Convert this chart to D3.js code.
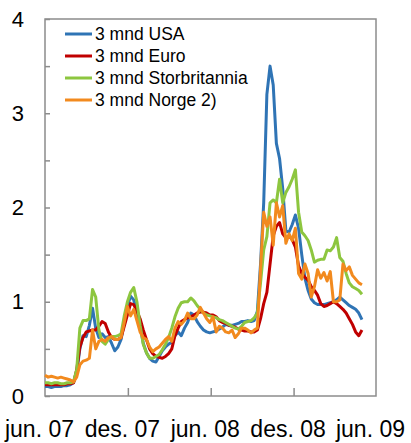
<!DOCTYPE html>
<html>
<head>
<meta charset="utf-8">
<script src="https://cdn.jsdelivr.net/npm/d3@7"></script>
<style>
  body { margin: 0; background: #fff; }
  svg { display: block; font-family: "Liberation Sans", Arial, sans-serif; }
</style>
</head>
<body>
<div id="chart"></div>
<script>
// weekly observations, first week starts 1 June 2007
const startDate = new Date(Date.UTC(2007, 5, 1));

const seriesNames = ["3 mnd USA", "3 mnd Euro", "3 mnd Storbritannia", "3 mnd Norge 2)"];
const seriesColors = ["#2f74b5", "#c00000", "#8dc63f", "#f28a1e"];

const tickDates = ["2007-06-01", "2007-12-01", "2008-06-01", "2008-12-01", "2009-06-01"];
const tickLabels = ["jun. 07", "des. 07", "jun. 08", "des. 08", "jun. 09"];
const yTicks = [0, 0.5, 1, 1.5, 2, 2.5, 3, 3.5, 4];

const usa = [
  0.10, 0.10, 0.09, 0.10, 0.10, 0.10, 0.11, 0.11, 0.12, 0.14,
  0.25, 0.50, 0.64, 0.63, 0.75, 0.93, 0.72, 0.62, 0.66, 0.62,
  0.63, 0.56, 0.48, 0.52, 0.60, 0.78, 0.95, 1.06, 1.02, 0.88,
  0.75, 0.56, 0.46, 0.40, 0.37, 0.36, 0.42, 0.48, 0.52, 0.55,
  0.57, 0.64, 0.68, 0.64, 0.72, 0.78, 0.88, 0.86, 0.79, 0.74,
  0.70, 0.68, 0.67, 0.68, 0.69, 0.71, 0.73, 0.76, 0.75, 0.75,
  0.76, 0.77, 0.79, 0.79, 0.80, 0.79, 0.80, 0.90, 1.40, 2.05,
  3.20, 3.50, 3.30, 2.68, 2.52, 2.20, 1.75, 1.74, 1.82, 1.92,
  1.78, 1.50, 1.25, 1.12, 1.03, 0.99, 0.97, 0.97, 0.97, 0.98,
  0.99, 1.00, 1.02, 1.05, 1.02, 0.99, 0.96, 0.94, 0.92, 0.88,
  0.81
];

const euro = [
  0.12, 0.12, 0.12, 0.12, 0.12, 0.12, 0.12, 0.13, 0.13, 0.14,
  0.28, 0.52, 0.62, 0.68, 0.69, 0.70, 0.70, 0.74, 0.79, 0.77,
  0.68, 0.62, 0.60, 0.60, 0.62, 0.74, 0.86, 0.98, 0.97, 0.90,
  0.82, 0.70, 0.60, 0.50, 0.45, 0.42, 0.41, 0.40, 0.42, 0.45,
  0.50, 0.64, 0.72, 0.79, 0.81, 0.83, 0.84, 0.86, 0.88, 0.89,
  0.89, 0.88, 0.86, 0.86, 0.84, 0.80, 0.78, 0.77, 0.75, 0.74,
  0.73, 0.71, 0.70, 0.69, 0.69, 0.68, 0.68, 0.70, 0.82, 0.98,
  1.10, 1.40, 1.70, 1.80, 1.84, 1.72, 1.68, 1.70, 1.66, 1.58,
  1.38, 1.30, 1.26, 1.23, 1.16, 1.12, 1.07, 0.98, 0.95, 0.96,
  0.98, 1.00, 0.98, 0.95, 0.92, 0.88, 0.82, 0.76, 0.68, 0.64,
  0.70
];

const uk = [
  0.14, 0.14, 0.13, 0.14, 0.14, 0.13, 0.13, 0.14, 0.14, 0.15,
  0.28, 0.72, 0.80, 0.80, 0.82, 1.13, 1.05, 0.70, 0.58, 0.55,
  0.60, 0.63, 0.63, 0.64, 0.66, 0.85, 1.00, 1.10, 1.15, 1.00,
  0.75, 0.55, 0.46, 0.40, 0.40, 0.42, 0.44, 0.49, 0.55, 0.62,
  0.72, 0.84, 0.93, 0.99, 1.00, 1.00, 1.04, 1.01, 0.96, 0.92,
  0.88, 0.86, 0.85, 0.84, 0.83, 0.81, 0.80, 0.78, 0.76, 0.74,
  0.72, 0.71, 0.74, 0.78, 0.79, 0.80, 0.83, 0.88, 1.20, 1.55,
  1.69, 2.05, 2.08, 2.05, 2.30, 2.05, 2.16, 2.22, 2.30, 2.40,
  1.95, 1.74, 1.70, 1.65, 1.55, 1.42, 1.44, 1.45, 1.45, 1.55,
  1.54, 1.58, 1.68, 1.47, 1.43, 1.30, 1.20, 1.16, 1.14, 1.12,
  1.08
];

const norge = [
  0.22, 0.20, 0.21, 0.20, 0.19, 0.20, 0.19, 0.18, 0.17, 0.15,
  0.20, 0.33, 0.37, 0.38, 0.40, 0.70, 0.50, 0.58, 0.60, 0.58,
  0.62, 0.63, 0.60, 0.60, 0.62, 0.78, 0.95, 0.85, 0.92, 0.80,
  0.68, 0.62, 0.60, 0.52, 0.47, 0.50, 0.52, 0.56, 0.60, 0.63,
  0.58, 0.72, 0.79, 0.76, 0.80, 0.88, 0.82, 0.82, 0.86, 0.94,
  0.88, 0.82, 0.78, 0.84, 0.68, 0.74, 0.72, 0.68, 0.67, 0.70,
  0.62, 0.66, 0.72, 0.72, 0.70, 0.67, 0.70, 0.72, 1.35, 1.95,
  1.80, 1.90, 1.60, 2.05, 1.90, 2.02, 1.62, 1.72, 1.65, 1.78,
  1.30, 1.24, 1.40, 1.30, 1.05, 1.16, 1.34, 1.25, 1.31, 1.22,
  1.32, 1.00, 1.00, 1.02, 1.40, 1.33, 1.37, 1.28, 1.24, 1.20,
  1.18
];

const allSeries = [usa, euro, uk, norge];

const margin = { top: 19, right: 35, bottom: 47, left: 45 };
const totalW = 411, totalH = 443;
const width = totalW - margin.left - margin.right;
const height = totalH - margin.top - margin.bottom;

const svg = d3.select("#chart")
  .append("svg")
  .attr("width", totalW)
  .attr("height", totalH)
  .append("g")
  .attr("transform", "translate(" + margin.left + "," + margin.top + ")");

const parse = d3.utcParse("%Y-%m-%d");

const x = d3.scaleUtc()
  .domain([parse(tickDates[0]), parse(tickDates[tickDates.length - 1])])
  .range([0, width]);

const y = d3.scaleLinear()
  .domain([0, 4])
  .range([height, 0]);

const axisColor = "#8c8c8c";

// plot frame
svg.append("rect")
  .attr("width", width)
  .attr("height", height)
  .attr("fill", "none")
  .attr("stroke", axisColor)
  .attr("stroke-width", 1.5);

// y axis: inner ticks every 0.5, labels on whole numbers
const yAxis = svg.append("g")
  .call(d3.axisLeft(y)
    .tickValues(yTicks)
    .tickSizeInner(-5)
    .tickSizeOuter(0)
    .tickPadding(21)
    .tickFormat(d => d % 1 === 0 ? d : ""));
yAxis.select(".domain").remove();
yAxis.selectAll("line").attr("stroke", axisColor).attr("stroke-width", 1.5);
yAxis.selectAll("text")
  .attr("fill", "#000")
  .style("font-size", "22px")
  .style("font-family", "'Liberation Sans', Arial, sans-serif");

// x axis: inner ticks at the half years
const xTicks = svg.append("g")
  .attr("transform", "translate(0," + height + ")")
  .call(d3.axisBottom(x)
    .tickValues(tickDates.slice(1, -1).map(parse))
    .tickSizeInner(-8)
    .tickSizeOuter(0)
    .tickFormat(""));
xTicks.select(".domain").remove();
xTicks.selectAll("line").attr("stroke", axisColor).attr("stroke-width", 1.5);

// x labels under each half-year mark
const xLabels = svg.append("g")
  .attr("transform", "translate(0," + height + ")")
  .call(d3.axisBottom(x)
    .tickValues(tickDates.map(parse))
    .tickSize(0)
    .tickPadding(25)
    .tickFormat((d, i) => tickLabels[i]));
xLabels.select(".domain").remove();
xLabels.selectAll("text")
  .attr("fill", "#000")
  .attr("dx", -6)
  .style("font-size", "23px")
  .style("font-family", "'Liberation Sans', Arial, sans-serif");

// lines
const line = d3.line()
  .x((d, i) => x(d3.utcDay.offset(startDate, 7 * i)))
  .y(d => y(d));

allSeries.forEach((s, k) => {
  svg.append("path")
    .datum(s)
    .attr("fill", "none")
    .attr("stroke", seriesColors[k])
    .attr("stroke-width", 3)
    .attr("stroke-linejoin", "round")
    .attr("d", line);
});

// legend
const legend = svg.append("g")
  .attr("transform", "translate(20,15)");

seriesNames.forEach((name, k) => {
  const row = legend.append("g")
    .attr("transform", "translate(0," + (k * 22) + ")");
  row.append("line")
    .attr("x1", 0)
    .attr("x2", 27)
    .attr("stroke", seriesColors[k])
    .attr("stroke-width", 3);
  row.append("text")
    .attr("x", 30)
    .attr("dy", "0.35em")
    .style("font-size", "17.5px")
    .text(name);
});
</script>
</body>
</html>
